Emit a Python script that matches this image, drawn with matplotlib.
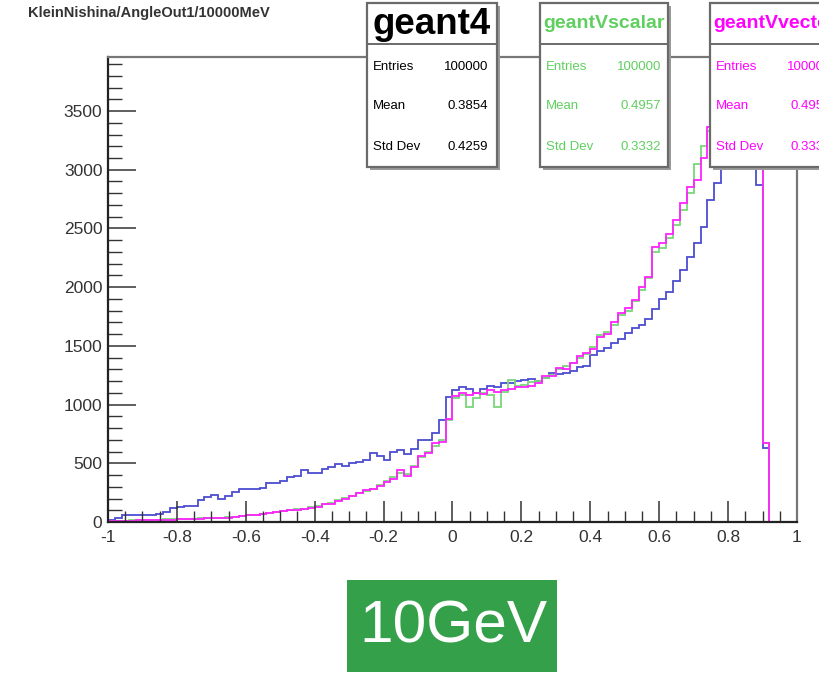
import numpy as np
import matplotlib.pyplot as plt
from matplotlib.patches import Rectangle

plt.rcParams['font.family'] = ['Liberation Sans', 'DejaVu Sans']
plt.rcParams['axes.unicode_minus'] = False

# 100 bins of cos(theta) from -1 to 1
edges = np.linspace(-1, 1, 101)

geant4 = [
    17, 35, 60, 60, 60, 60, 60, 65, 85, 120,
    125, 135, 140, 190, 215, 230, 200, 225, 255, 280,
    285, 280, 290, 330, 335, 350, 380, 390, 440, 420,
    415, 450, 470, 490, 480, 500, 510, 530, 590, 560,
    530, 600, 610, 580, 620, 700, 700, 760, 870, 1065,
    1120, 1150, 1130, 1100, 1130, 1160, 1150, 1180, 1180, 1200,
    1210, 1220, 1200, 1230, 1270, 1260, 1270, 1290, 1320, 1330,
    1420, 1460, 1480, 1525, 1560, 1610, 1650, 1680, 1730, 1810,
    1900, 1960, 2050, 2150, 2260, 2380, 2510, 2740, 2890, 3050,
    3250, 3450, 3600, 3770, 2870, 630, 0, 0, 0, 0,
]

geantv_scalar = [
    12, 12, 12, 14, 15, 16, 18, 20, 22, 22,
    25, 26, 28, 30, 32, 36, 38, 40, 42, 52,
    58, 62, 68, 78, 85, 92, 100, 108, 112, 125,
    135, 150, 160, 185, 205, 225, 245, 265, 285, 315,
    345, 380, 420, 410, 480, 550, 600, 650, 700, 870,
    1060, 1080, 980, 1060, 1100, 1080, 980, 1110, 1210, 1160,
    1170, 1190, 1200, 1230, 1250, 1300, 1330, 1350, 1400, 1430,
    1490, 1590, 1620, 1680, 1760, 1800, 1880, 1980, 2080, 2300,
    2330, 2420, 2530, 2660, 2800, 3050, 3200, 3330, 3480, 3640,
    3800, 3980, 4150, 4300, 4500, 670, 0, 0, 0, 0,
]

geantv_vector = [
    8, 10, 10, 12, 14, 15, 16, 18, 20, 20,
    22, 24, 26, 28, 30, 34, 36, 38, 40, 55,
    60, 60, 65, 80, 85, 90, 100, 105, 110, 120,
    130, 150, 155, 180, 200, 220, 250, 270, 280, 310,
    340, 370, 440, 390, 470, 560, 590, 670, 680, 880,
    1070, 1100, 1080, 1100, 1090, 1120, 1110, 1120, 1130, 1150,
    1150, 1160, 1180, 1240, 1240, 1310, 1300, 1350, 1410, 1440,
    1470, 1575, 1600, 1700, 1780, 1820, 1890, 2000, 2090, 2340,
    2375, 2450, 2570, 2715, 2850, 2910, 3100, 3360, 3500, 3650,
    3800, 4000, 4150, 4300, 4500, 670, 0, 0, 0, 0,
]

hist_title = "KleinNishina/AngleOut1/10000MeV"
energy_label = "10GeV"

# name, colour, entries, mean, std dev
stats = [
    ("geant4", "black", "100000", "0.3854", "0.4259"),
    ("geantVscalar", "#5fcf5f", "100000", "0.4957", "0.3332"),
    ("geantVvector", "#ff00ff", "100000", "0.4953", "0.3336"),
]

BLUE = "#4c4cd0"
GREEN = "#78d878"
MAGENTA = "#ff22ff"


def stat_box(fig, x0, x1, name, color, entries, mean, std, title_size):
    """ROOT-like statistics box in figure pixel coordinates."""
    W, H = fig.bbox.width, fig.bbox.height
    top, bottom, sep = 3, 167, 44
    tr = fig.transFigure
    # shadow
    fig.patches.append(Rectangle(((x0 + 3) / W, 1 - (bottom + 3) / H),
                                 (x1 - x0) / W, (bottom - top) / H,
                                 transform=tr, facecolor="#9a9a9a",
                                 edgecolor="none", zorder=5))
    fig.patches.append(Rectangle((x0 / W, 1 - bottom / H),
                                 (x1 - x0) / W, (bottom - top) / H,
                                 transform=tr, facecolor="white",
                                 edgecolor="#6a6a6a", lw=1.6, zorder=6))
    fig.lines.append(plt.Line2D([x0 / W, x1 / W], [1 - sep / H, 1 - sep / H],
                                transform=tr, color="#6a6a6a", lw=1.4,
                                zorder=7))
    fig.text((x0 + x1) / 2 / W, 1 - 24 / H, name, ha="center", va="center",
             fontsize=title_size, fontweight="bold", color=color, zorder=8)
    rows = [("Entries", entries, 67), ("Mean", mean, 106),
            ("Std Dev", std, 147)]
    for label, val, y in rows:
        fig.text((x0 + 6) / W, 1 - y / H, label, ha="left", va="center",
                 fontsize=9.5, color=color, zorder=8)
        fig.text((x0 + 121) / W, 1 - y / H, val, ha="right", va="center",
                 fontsize=9.5, color=color, zorder=8)


def main():
    fig = plt.figure(figsize=(8.2, 6.76), dpi=100)
    ax = fig.add_axes([108 / 820, 1 - 522 / 676, 689 / 820, 465 / 676])

    ax.stairs(geant4, edges, color=BLUE, lw=1.3)
    ax.stairs(geantv_scalar, edges, color=GREEN, lw=1.3)
    ax.stairs(geantv_vector, edges, color=MAGENTA, lw=1.3)

    ax.set_xlim(-1, 1)
    ax.set_ylim(0, 3960)
    ax.set_xticks(np.arange(-1, 1.01, 0.2))
    ax.set_xticklabels(["-1", "-0.8", "-0.6", "-0.4", "-0.2", "0",
                        "0.2", "0.4", "0.6", "0.8", "1"])
    ax.set_xticks(np.arange(-1, 1.01, 0.05), minor=True)
    ax.set_yticks(np.arange(0, 3501, 500))
    ax.set_yticks(np.arange(0, 3901, 100), minor=True)

    ax.tick_params(axis="both", which="both", direction="in",
                   color="#333333", labelsize=12.5, labelcolor="#333333")
    ax.tick_params(axis="y", which="major", length=20, width=1.1, pad=4)
    ax.tick_params(axis="y", which="minor", length=10, width=1.0)
    ax.tick_params(axis="x", which="major", length=15, width=1.1, pad=6)
    ax.tick_params(axis="x", which="minor", length=8, width=1.0)

    for side in ("left", "bottom"):
        ax.spines[side].set_color("#222222")
        ax.spines[side].set_linewidth(1.6)
    for side in ("right", "top"):
        ax.spines[side].set_color("#777777")
        ax.spines[side].set_linewidth(1.6)

    fig.text(28 / 820, 1 - 13 / 676, hist_title, ha="left", va="center",
             fontsize=10.5, fontweight="bold", color="#333333")

    stat_box(fig, 367, 497, *stats[0], title_size=26.5)
    stat_box(fig, 540, 668, *stats[1], title_size=14)
    stat_box(fig, 710, 840, *stats[2], title_size=14)

    # energy tag under the plot
    fig.patches.append(Rectangle((347 / 820, 1 - 672 / 676), 210 / 820,
                                 92 / 676, transform=fig.transFigure,
                                 facecolor="#35a04a", edgecolor="none"))
    fig.text(453 / 820, 1 - 627 / 676, energy_label, ha="center",
             va="center", fontsize=43.5, color="white")

    fig.savefig("out.png", dpi=100)


if __name__ == "__main__":
    main()
